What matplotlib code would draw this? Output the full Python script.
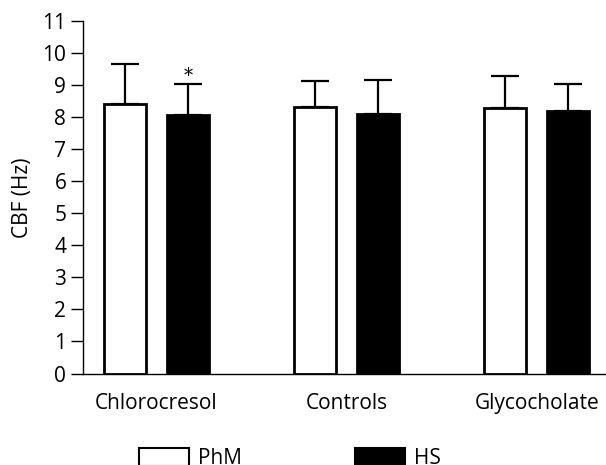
import numpy as np
import matplotlib
matplotlib.use('Agg')
import matplotlib.pyplot as plt
from matplotlib.patches import Patch

plt.rcParams['font.family'] = ['Open Sans', 'DejaVu Sans']

# data
groups = ['Chlorocresol', 'Controls', 'Glycocholate']
phm_mean = [8.42, 8.31, 8.27]
phm_err = [1.23, 0.81, 1.00]
hs_mean = [8.08, 8.11, 8.20]
hs_err = [0.96, 1.06, 0.82]
yticks = list(range(0, 12))

fig = plt.figure(figsize=(6.06, 4.65), dpi=100)
ax = fig.add_axes([83 / 606, 91.5 / 465, 523 / 606, 352.5 / 465])

x = np.arange(len(groups))
w = 0.22
off = 0.166

ax.bar(x - off, phm_mean, w, color='white', edgecolor='black', linewidth=2,
       yerr=[np.zeros(3), phm_err], capsize=10,
       error_kw=dict(elinewidth=1.6, capthick=1.6, ecolor='black'),
       label='PhM', zorder=3)
ax.bar(x + off, hs_mean, w, color='black', edgecolor='black', linewidth=2,
       yerr=[np.zeros(3), hs_err], capsize=10,
       error_kw=dict(elinewidth=1.6, capthick=1.6, ecolor='black'),
       label='HS', zorder=3)

# significance marker
ax.text(x[0] + off, hs_mean[0] + hs_err[0] - 0.04, '*', ha='center',
        va='bottom', fontsize=13, family='DejaVu Serif')

ax.set_xlim(-0.387, 2.365)
ax.set_ylim(0, 11)
ax.set_yticks(yticks)
ax.set_xticks(x)
ax.set_xticklabels(groups, fontsize=15)
ax.tick_params(axis='x', length=0, pad=14)
ax.tick_params(axis='y', length=9, width=1, labelsize=15, pad=3)
ax.spines['top'].set_visible(False)
ax.spines['right'].set_visible(False)
ax.spines['left'].set_linewidth(1)
ax.spines['bottom'].set_linewidth(1)
ax.set_ylabel('CBF (Hz)', fontsize=15)
ax.yaxis.set_label_coords(-0.096, 0.5)

# legend sits at the bottom edge, partly cropped as in the original figure
handles = [Patch(facecolor='white', edgecolor='black', linewidth=1.5),
           Patch(facecolor='black', edgecolor='black', linewidth=1.5)]
fig.legend(handles, ['PhM', 'HS'], loc='upper left',
           bbox_to_anchor=(139 / 606, 1 - 447.5 / 465), ncol=2, frameon=False,
           fontsize=15, handlelength=2.4, handleheight=1.0,
           handletextpad=0.45, columnspacing=5.4, borderpad=0,
           borderaxespad=0)

fig.savefig('out.png', dpi=100)
